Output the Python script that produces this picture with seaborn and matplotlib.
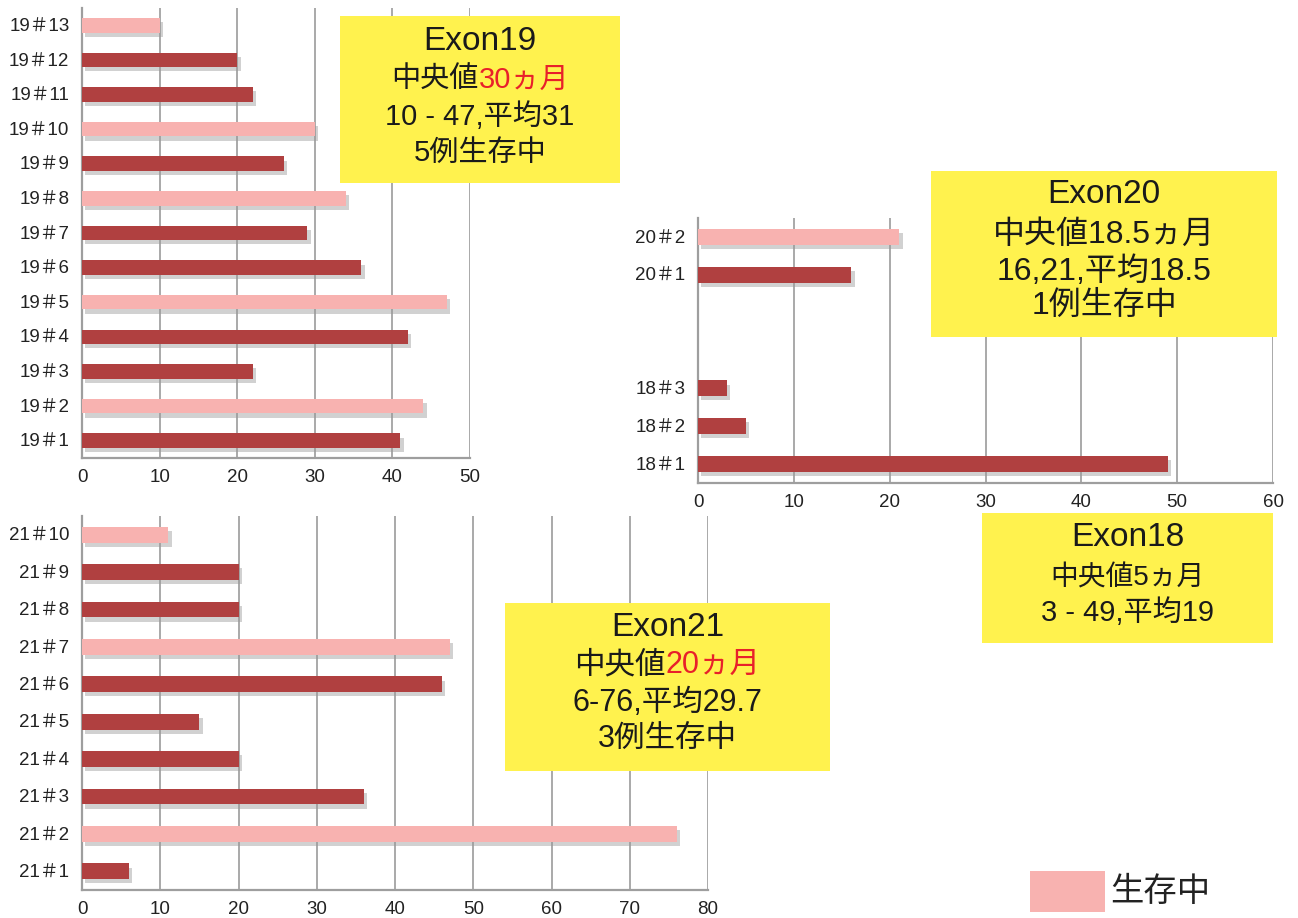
import matplotlib
matplotlib.use("Agg")
import matplotlib.pyplot as plt
import matplotlib.patheffects as pe
from matplotlib.patches import Rectangle
from matplotlib.ticker import FixedLocator
import numpy as np
import pandas as pd
import seaborn as sns

# ---- data (survival in months per case) ----
ex19_labels = ["19＃13", "19＃12", "19＃11", "19＃10", "19＃9", "19＃8", "19＃7",
               "19＃6", "19＃5", "19＃4", "19＃3", "19＃2", "19＃1"]
ex19_months = [10, 20, 22, 30, 26, 34, 29, 36, 47, 42, 22, 44, 41]
ex19_alive = [True, False, False, True, False, True, False, False, True, False, False, True, False]

ex2018_order = ["20＃2", "20＃1", " ", "  ", "18＃3", "18＃2", "18＃1"]
ex2018_labels = ["20＃2", "20＃1", "18＃3", "18＃2", "18＃1"]
ex2018_months = [21, 16, 3, 5, 49]
ex2018_alive = [True, False, False, False, False]

ex21_labels = ["21＃10", "21＃9", "21＃8", "21＃7", "21＃6", "21＃5", "21＃4",
               "21＃3", "21＃2", "21＃1"]
ex21_months = [11, 20, 20, 47, 46, 15, 20, 36, 76, 6]
ex21_alive = [True, False, False, True, False, False, False, False, True, False]

ALIVE, DEAD = "生存中", "死亡"
DARK_RED = "#B04040"
PINK = "#F8B2B0"
YELLOW = "#FFF24E"
RED_TXT = "#E8202A"
GRID = "#A9A9A9"
SPINE = "#9E9E9E"

sns.set_style("white")
FONT = ["Liberation Sans", "Noto Sans CJK JP", "DejaVu Sans"]
plt.rcParams["font.family"] = FONT
plt.rcParams["axes.unicode_minus"] = False

W, H = 1298, 918
fig = plt.figure(figsize=(W / 100, H / 100), dpi=100)


def px_axes(left, top, right, bottom):
    return fig.add_axes([left / W, 1 - bottom / H, (right - left) / W, (bottom - top) / H])


def bar_panel(ax, labels, months, alive, order, xmax):
    df = pd.DataFrame({
        "case": labels,
        "months": months,
        "status": [ALIVE if a else DEAD for a in alive],
    })
    sns.barplot(data=df, x="months", y="case", hue="status", order=order,
                hue_order=[ALIVE, DEAD], palette={ALIVE: PINK, DEAD: DARK_RED},
                dodge=False, width=0.42, orient="h", saturation=1,
                linewidth=0, edgecolor="none",
                legend=False, ax=ax, zorder=3)
    for p in ax.patches:
        p.set_path_effects([
            pe.SimplePatchShadow(offset=(2.5, -3), shadow_rgbFace="#9a9a9a", alpha=0.45),
            pe.Normal(),
        ])
    n = len(order)
    ax.set_xlim(0, xmax)
    ax.set_ylim(n - 0.5, -0.5)
    ax.set_xticks(np.arange(0, xmax + 1, 10))
    ax.xaxis.grid(True, color=GRID, lw=1.4)
    ax.yaxis.grid(False)
    ax.set_axisbelow(True)
    ax.yaxis.set_minor_locator(FixedLocator(np.arange(-0.5, n, 1)))
    ax.tick_params(axis="y", which="major", length=0, pad=9, labelsize=13.5,
                   labelcolor="#222222")
    ax.tick_params(axis="y", which="minor", length=6, width=1.3, color=SPINE)
    ax.tick_params(axis="x", which="major", length=5, width=1.3, color=SPINE,
                   labelsize=13.5, labelcolor="#222222", pad=3)
    for s in ("top", "right"):
        ax.spines[s].set_visible(False)
    for s in ("left", "bottom"):
        ax.spines[s].set_color(SPINE)
        ax.spines[s].set_linewidth(1.6)
    ax.set_xlabel("")
    ax.set_ylabel("")


ax19 = px_axes(82, 8, 470, 458)
bar_panel(ax19, ex19_labels, ex19_months, ex19_alive, ex19_labels, 50)

ax2018 = px_axes(698, 218, 1273, 483)
bar_panel(ax2018, ex2018_labels, ex2018_months, ex2018_alive, ex2018_order, 60)

ax21 = px_axes(82, 516, 708, 890)
bar_panel(ax21, ex21_labels, ex21_months, ex21_alive, ex21_labels, 80)

renderer = fig.canvas.get_renderer()


def info_box(x0, y0, x1, y1, lines):
    fig.add_artist(Rectangle((x0 / W, 1 - y1 / H), (x1 - x0) / W, (y1 - y0) / H,
                             transform=fig.transFigure, facecolor=YELLOW,
                             edgecolor="none", zorder=10))
    cx = (x0 + x1) / 2
    for yc, size, segments in lines:
        texts = [fig.text(0, 1 - yc / H, s, color=c, fontsize=size, ha="left",
                          va="center", zorder=11, family=FONT)
                 for s, c in segments]
        widths = [t.get_window_extent(renderer).width for t in texts]
        x = cx - sum(widths) / 2
        for t, w in zip(texts, widths):
            t.set_x(x / W)
            x += w


K = "#1a1a1a"
info_box(340, 16, 620, 183, [
    (42, 24, [("Exon19", K)]),
    (80, 21, [("中央値", K), ("30ヵ月", RED_TXT)]),
    (117, 21, [("10 - 47,平均31", K)]),
    (153, 21, [("5例生存中", K)]),
])
info_box(931, 171, 1277, 337, [
    (194, 24, [("Exon20", K)]),
    (235, 23, [("中央値18.5ヵ月", K)]),
    (272, 23, [("16,21,平均18.5", K)]),
    (306, 23, [("1例生存中", K)]),
])
info_box(982, 513, 1273, 643, [
    (538, 24, [("Exon18", K)]),
    (578, 20, [("中央値5ヵ月", K)]),
    (613, 21, [("3 - 49,平均19", K)]),
])
info_box(505, 603, 830, 771, [
    (628, 24, [("Exon21", K)]),
    (665, 22, [("中央値", K), ("20ヵ月", RED_TXT)]),
    (703, 22, [("6-76,平均29.7", K)]),
    (739, 22, [("3例生存中", K)]),
])

# legend for surviving cases
fig.add_artist(Rectangle((1030 / W, 1 - 912 / H), 75 / W, 41 / H,
                         transform=fig.transFigure, facecolor=PINK,
                         edgecolor="none", zorder=10))
fig.text(1110 / W, 1 - 892 / H, ALIVE, fontsize=24, ha="left", va="center",
         color="#222222", zorder=11, family=FONT)

fig.savefig("out.png", dpi=100, facecolor="white")
